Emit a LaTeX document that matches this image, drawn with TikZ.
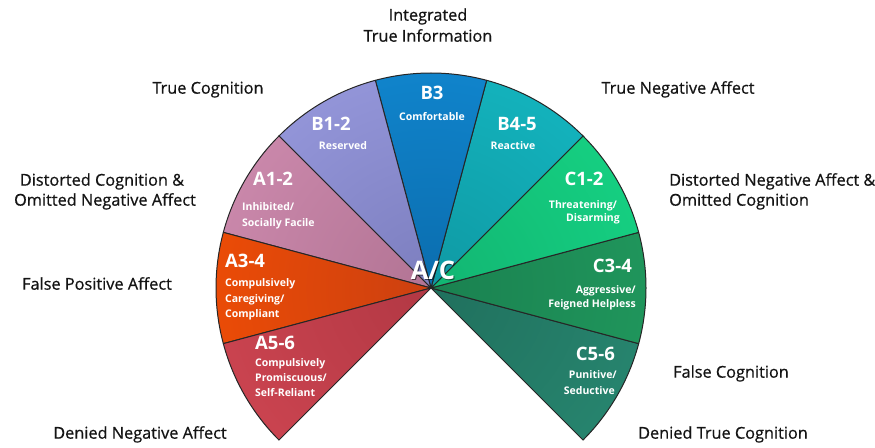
\documentclass[tikz,border=0pt]{standalone}
\usepackage{fontspec}
\setmainfont{Open Sans}
\newfontfamily\labelfont[FakeBold=0.6]{Open Sans}

% sector colours: inner (near the hub) and outer (at the rim)
\definecolor{aFiveIn}{HTML}{B23844}\definecolor{aFiveOut}{HTML}{DA4B57}
\definecolor{aThreeIn}{HTML}{CC4010}\definecolor{aThreeOut}{HTML}{FF5300}
\definecolor{aOneIn}{HTML}{B27494}\definecolor{aOneOut}{HTML}{D994B9}
\definecolor{bOneIn}{HTML}{7C7EBE}\definecolor{bOneOut}{HTML}{A2A4EA}
\definecolor{bThreeIn}{HTML}{0B6DAE}\definecolor{bThreeOut}{HTML}{1393DF}
\definecolor{bFourIn}{HTML}{0F99A3}\definecolor{bFourOut}{HTML}{16C3CD}
\definecolor{cOneIn}{HTML}{12B572}\definecolor{cOneOut}{HTML}{17E08B}
\definecolor{cThreeIn}{HTML}{1A8150}\definecolor{cThreeOut}{HTML}{23A363}
\definecolor{cFiveIn}{HTML}{20705D}\definecolor{cFiveOut}{HTML}{2B9179}

\newcommand\fanR{215}
% \fanSector{start angle}{end angle}{hub colour}{rim colour}
\newcommand\fanSector[4]{%
  \begin{scope}
    \clip (O) -- ++(#1:\fanR) arc[start angle=#1, end angle=#2, radius=\fanR] -- cycle;
    \shade[inner color=#3, outer color=#4] (O) circle[radius=1.7*\fanR];
  \end{scope}
  \draw[rim] (O) -- ++(#1:\fanR) arc[start angle=#1, end angle=#2, radius=\fanR] -- cycle;
}

\begin{document}
\begin{tikzpicture}[x=1pt,y=1pt,
  big/.style={font=\bfseries\fontsize{18.5}{20}\selectfont, text=white, inner sep=0pt},
  small/.style={font=\bfseries\fontsize{10.5}{12}\selectfont, text=white, inner sep=0pt},
  outer/.style={font=\labelfont\fontsize{16.3}{18}\selectfont, text=black!92, inner sep=0pt},
  rim/.style={draw=black!85, line width=1pt, line join=round}]

\useasboundingbox[fill=white] (0,0) rectangle (875,447);
\coordinate (O) at (431,159);

% the nine sectors of the fan
\fanSector{-45}{-15}{cFiveIn}{cFiveOut}
\fanSector{-15}{15}{cThreeIn}{cThreeOut}
\fanSector{15}{45}{cOneIn}{cOneOut}
\fanSector{45}{75}{bFourIn}{bFourOut}
\fanSector{75}{105}{bThreeIn}{bThreeOut}
\fanSector{105}{135}{bOneIn}{bOneOut}
\fanSector{135}{165}{aOneIn}{aOneOut}
\fanSector{165}{195}{aThreeIn}{aThreeOut}
\fanSector{195}{225}{aFiveIn}{aFiveOut}

% hub label
\node[font=\bfseries\fontsize{25.5}{27}\selectfont, text=black, opacity=0.55, inner sep=0pt, anchor=mid]
  (acs) at (434,169) {A/C};
\node[font=\bfseries\fontsize{25.5}{27}\selectfont, text=white, inner sep=0pt, anchor=mid]
  (ac) at (433,170) {A/C};

% sector labels
\node[big, anchor=mid] (b3) at (432,350) {B3};
\node[small, anchor=mid] (b3t) at (432,329) {Comfortable};
\node[big, anchor=mid] (b12) at (331,319) {B1-2};
\node[small, anchor=mid] (b12t) at (343,300) {Reserved};
\node[big, anchor=mid] (b45) at (517,319) {B4-5};
\node[small, anchor=mid] (b45t) at (513,300) {Reactive};

\node[big, anchor=mid west] (a12) at (253,264) {A1-2};
\node[small, anchor=mid west] (a12t1) at (242,239) {Inhibited/};
\node[small, anchor=mid west] (a12t2) at (242,223) {Socially Facile};

\node[big, anchor=mid west] (a34) at (225,182) {A3-4};
\node[small, anchor=mid west] (a34t1) at (225,163) {Compulsively};
\node[small, anchor=mid west] (a34t2) at (225,147) {Caregiving/};
\node[small, anchor=mid west] (a34t3) at (225,132) {Compliant};

\node[big, anchor=mid west] (a56) at (255,100) {A5-6};
\node[small, anchor=mid west] (a56t1) at (255,83) {Compulsively};
\node[small, anchor=mid west] (a56t2) at (255,68) {Promiscuous/};
\node[small, anchor=mid west] (a56t3) at (255,53) {Self-Reliant};

\node[big, anchor=mid] (c12) at (584,264) {C1-2};
\node[small, anchor=mid] (c12t1) at (583,241) {Threatening/};
\node[small, anchor=mid] (c12t2) at (593,228) {Disarming};

\node[big, anchor=mid east] (c34) at (632,177) {C3-4};
\node[small, anchor=mid east] (c34t1) at (636,156) {Aggressive/};
\node[small, anchor=mid east] (c34t2) at (636,142) {Feigned Helpless};

\node[big, anchor=mid east] (c56) at (615,89) {C5-6};
\node[small, anchor=mid east] (c56t1) at (617,71) {Punitive/};
\node[small, anchor=mid east] (c56t2) at (615,55) {Seductive};

% surrounding labels
\node[outer, anchor=mid] (l1) at (428,429) {Integrated};
\node[outer, anchor=mid] (l2) at (428,408) {True Information};
\node[outer, anchor=mid] (l3) at (208,356) {True Cognition};
\node[outer, anchor=mid] (l4) at (678,356) {True Negative Affect};
\node[outer, anchor=mid] (l5) at (102,264) {Distorted Cognition \&};
\node[outer, anchor=mid] (l6) at (105,244) {Omitted Negative Affect};
\node[outer, anchor=mid west] (l7) at (669,264) {Distorted Negative Affect \&};
\node[outer, anchor=mid west] (l8) at (669,244) {Omitted Cognition};
\node[outer, anchor=mid] (l9) at (97,160) {False Positive Affect};
\node[outer, anchor=mid] (l10) at (731,72) {False Cognition};
\node[outer, anchor=mid] (l11) at (140,11) {Denied Negative Affect};
\node[outer, anchor=mid] (l12) at (723,11) {Denied True Cognition};
\end{tikzpicture}
\end{document}
